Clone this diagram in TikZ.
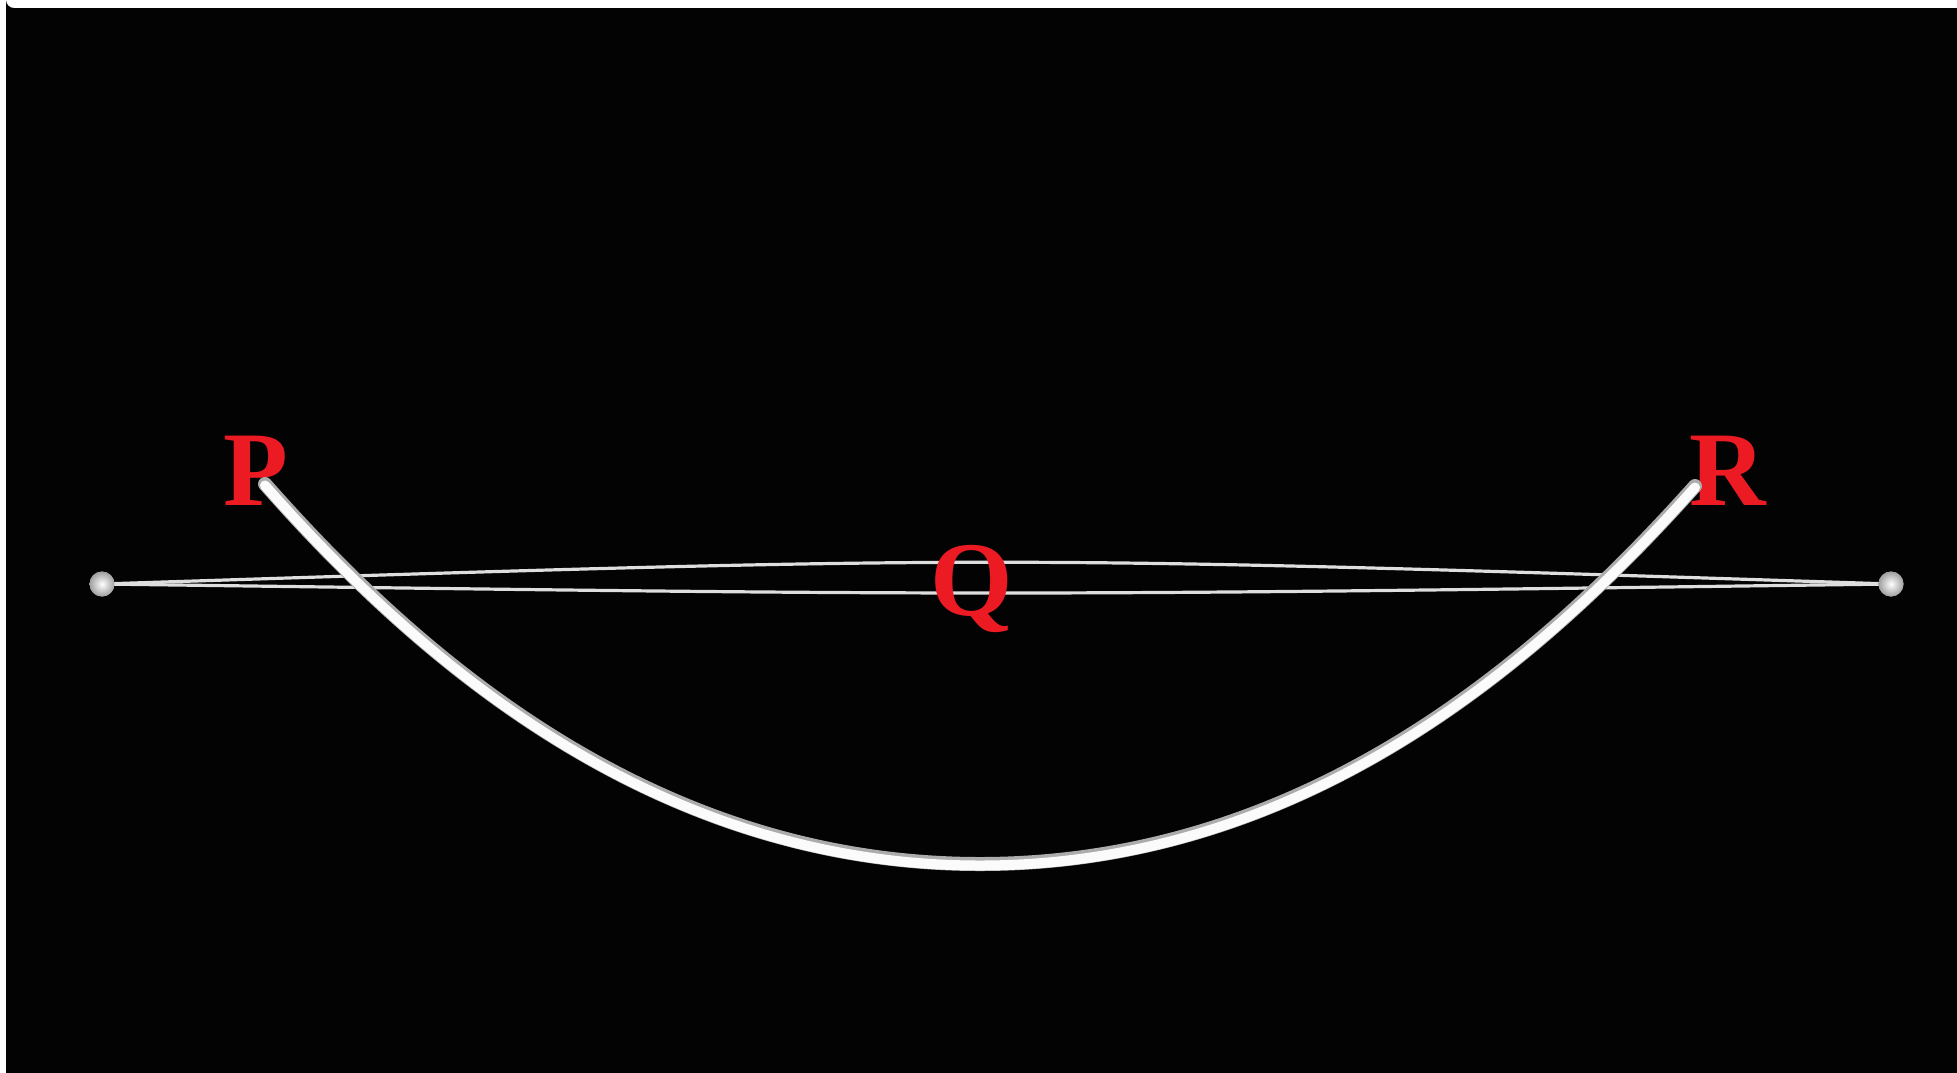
\documentclass[tikz,border=0pt]{standalone}
\usepackage{fontspec}
\setmainfont{Liberation Serif}
\begin{document}
\begin{tikzpicture}[x=1pt,y=-1pt,
  lbl/.style={text=labelred,font=\bfseries\fontsize{106}{106}\selectfont,inner sep=0pt,anchor=base},
  wire/.style={draw=wiregray,line width=3.2pt},
  ball/.style={circle,minimum size=25pt,inner sep=0pt,inner color=white,outer color=gray!75!white},
  tubeout/.style={draw=gray!65!white,line width=14pt,line cap=round},
  tubein/.style={draw=white!97!gray,line width=10pt,line cap=round}]
\definecolor{labelred}{RGB}{236,26,34}
\definecolor{wiregray}{RGB}{222,222,222}
\definecolor{bg}{RGB}{3,3,3}
\useasboundingbox (0,0) rectangle (1957,1072);
\fill[white] (0,0) rectangle (1957,1072);
\fill[bg] (1975,8) -- (14,8) arc[start angle=90,end angle=180,radius=8] -- (6,1090) -- (1975,1090) -- cycle;
% balls
\node[ball] (BL) at (102,584) {};
\node[ball] (BR) at (1891,584) {};
% thin wires
\draw[wire] (BL.center) .. controls (996,555) .. (BR.center);
\draw[wire] (BL.center) .. controls (996,596) .. (BR.center);
\node[ball] at (BL) {};
\node[ball] at (BR) {};
% labels
\node[lbl] (P) at (256,505) {P};
\node[lbl] (Q) at (972,615) {Q};
\node[lbl] (R) at (1728,505) {R};
% tube arc
\coordinate (A) at (265,484);
\coordinate (M) at (980,864);
\coordinate (B) at (1695,486);
\draw[tubeout] (A) .. controls (415,654) and (650,864) .. (M) .. controls (1310,864) and (1545,654) .. (B);
\draw[tubein] ([yshift=-1.5]A) .. controls ([yshift=-1.5]415,654) and ([yshift=-1.5]650,864) .. ([yshift=-1.5]M) .. controls ([yshift=-1.5]1310,864) and ([yshift=-1.5]1545,654) .. ([yshift=-1.5]B);
\end{tikzpicture}
\end{document}
